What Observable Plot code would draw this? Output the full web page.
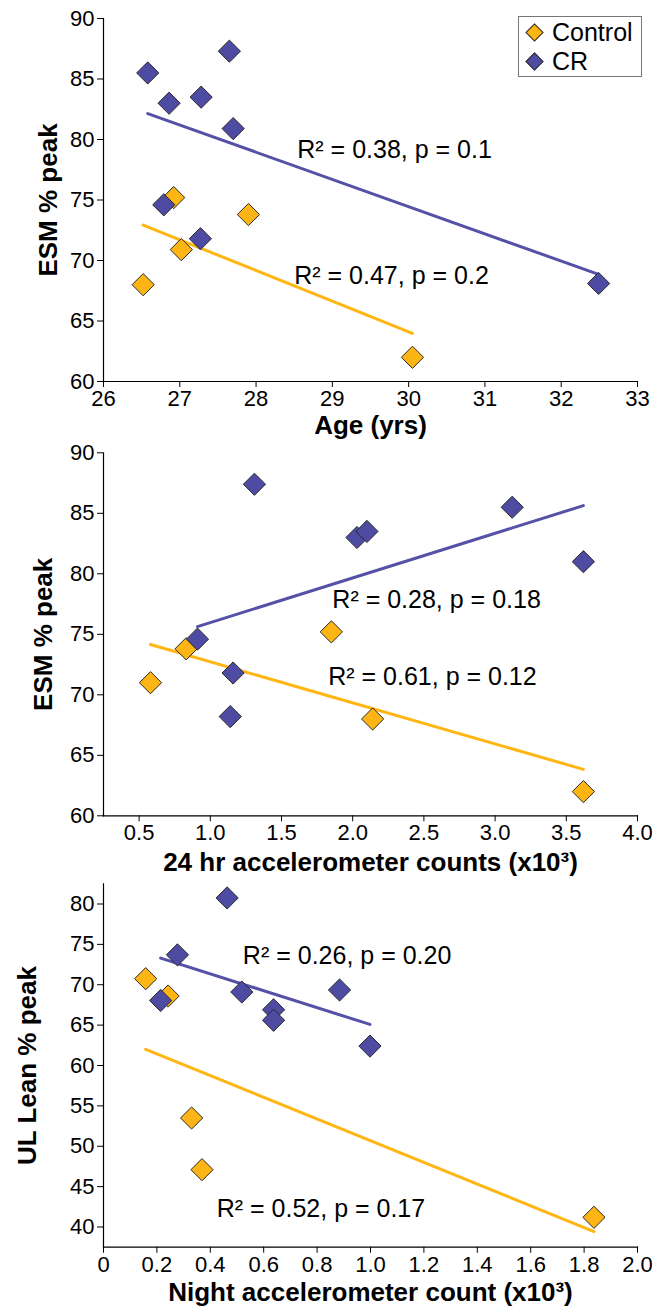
<!DOCTYPE html>
<html>
<head>
<meta charset="utf-8">
<script src="https://cdn.jsdelivr.net/npm/d3@7"></script>
<script src="https://cdn.jsdelivr.net/npm/@observablehq/plot@0.6"></script>
<style>
  html, body { margin: 0; padding: 0; background: #fff; }
  #wrap { position: relative; width: 652px; font-family: "Liberation Sans", Arial, sans-serif; }
  #wrap svg { display: block; }
  .legend { position: absolute; left: 518px; top: 16px; width: 124px; height: 61px; border: 1.5px solid #777; background: #fff; box-sizing: border-box; }
  .legend .item { position: absolute; left: 0; height: 30px; display: flex; align-items: center; font-size: 25px; color: #000; }
  .legend .sw { width: 11px; height: 11px; transform: rotate(45deg); border: 1px solid #333; margin-left: 9px; margin-right: 11px; }
</style>
</head>
<body>
<div id="wrap"></div>
<script>
// ---------- Data ----------
const groups = ["Control", "CR"];
const groupColors = ["#FDB515", "#4E4CA2"];
const lineColors = ["#FFB612", "#5451A6"];

// Panel 1: Age vs ESM % peak
const ageControl = [26.52, 26.92, 27.02, 27.90, 30.05];
const esmControl1 = [68.0, 75.2, 70.9, 73.8, 62.0];
const ageCR = [26.58, 26.86, 27.28, 27.65, 27.70, 26.79, 27.27, 32.49];
const esmCR1 = [85.5, 83.0, 83.5, 87.3, 80.9, 74.6, 71.8, 68.1];

// Panel 2: 24 hr accelerometer counts vs ESM % peak
const acc24Control = [0.58, 0.83, 1.85, 2.14, 3.62];
const esmControl2 = [71.0, 73.8, 75.2, 68.0, 62.0];
const acc24CR = [1.31, 2.03, 2.10, 3.12, 3.62, 0.91, 1.16, 1.14];
const esmCR2 = [87.4, 83.0, 83.5, 85.5, 81.0, 74.6, 71.8, 68.2];

// Panel 3: Night accelerometer count vs UL Lean % peak
const nightControl = [0.158, 0.242, 0.330, 0.369, 1.837];
const leanControl = [70.75, 68.6, 53.5, 47.1, 41.2];
const nightCR = [0.463, 0.277, 0.214, 0.518, 0.637, 0.637, 0.884, 0.998];
const leanCR = [80.75, 73.7, 68.05, 69.1, 66.9, 65.6, 69.35, 62.4];

// Tick labels
const ticks1X = [26, 27, 28, 29, 30, 31, 32, 33];
const ticks1Y = [60, 65, 70, 75, 80, 85, 90];
const ticks2X = [0.5, 1.0, 1.5, 2.0, 2.5, 3.0, 3.5, 4.0];
const ticks2Y = [60, 65, 70, 75, 80, 85, 90];
const ticks3X = [0, 0.2, 0.4, 0.6, 0.8, 1.0, 1.2, 1.4, 1.6, 1.8, 2.0];
const ticks3Y = [40, 45, 50, 55, 60, 65, 70, 75, 80];

// Annotations
const notes1 = [
  {text: "R² = 0.38, p = 0.1", x: 28.54, y: 79.1},
  {text: "R² = 0.47, p = 0.2", x: 28.50, y: 68.7}
];
const notes2 = [
  {text: "R² = 0.28, p = 0.18", x: 1.857, y: 77.8},
  {text: "R² = 0.61, p = 0.12", x: 1.828, y: 71.45}
];
const notes3 = [
  {text: "R² = 0.26, p = 0.20", x: 0.522, y: 73.5},
  {text: "R² = 0.52, p = 0.17", x: 0.424, y: 42.2}
];

// ---------- Helpers ----------
const rows = (xs, ys, g) => xs.map((x, i) => ({x, y: ys[i], g}));
const FONT = "'Liberation Sans', Arial, sans-serif";

function panel(cfg) {
  const ctrl = rows(cfg.cx, cfg.cy, "Control");
  const cr = rows(cfg.rx, cfg.ry, "CR");
  return Plot.plot({
    width: 652,
    height: cfg.height,
    marginTop: cfg.mt,
    marginBottom: cfg.mb,
    marginLeft: 103,
    marginRight: 15,
    style: {fontFamily: FONT, fontSize: "22px", color: "#000", background: "transparent", overflow: "visible"},
    x: {domain: cfg.xdom},
    y: {domain: cfg.ydom},
    marks: [
      Plot.axisX({ticks: cfg.xt, tickSize: 6, tickPadding: 3, tickFormat: cfg.xf, label: null, fontSize: 22, stroke: "#000"}),
      Plot.axisY({ticks: cfg.yt, tickSize: 6, tickPadding: 3, label: null, fontSize: 22, stroke: "#000"}),
      Plot.frame({anchor: "left", stroke: "#000", strokeWidth: 1.2}),
      Plot.frame({anchor: "bottom", stroke: "#000", strokeWidth: 1.2}),
      Plot.linearRegressionY(ctrl, {x: "x", y: "y", ci: 0, stroke: lineColors[0], strokeWidth: 3}),
      Plot.linearRegressionY(cr, {x: "x", y: "y", ci: 0, stroke: lineColors[1], strokeWidth: 3}),
      Plot.dot(ctrl, {x: "x", y: "y", symbol: "diamond2", r: 10, fill: groupColors[0], stroke: "#2a2a2a", strokeWidth: 1}),
      Plot.dot(cr, {x: "x", y: "y", symbol: "diamond2", r: 10, fill: groupColors[1], stroke: "#2a2a2a", strokeWidth: 1}),
      Plot.text(cfg.notes, {x: "x", y: "y", text: "text", textAnchor: "start", lineAnchor: "middle", fontSize: 25, fill: "#000"}),
      Plot.text([cfg.xlabel], {frameAnchor: "bottom", dy: cfg.xldy, textAnchor: "middle", lineAnchor: "middle", fontSize: 26, fontWeight: "bold", fill: "#000"}),
      Plot.text([cfg.ylabel], {frameAnchor: "left", dx: cfg.yldx, rotate: -90, textAnchor: "middle", lineAnchor: "middle", fontSize: 26, fontWeight: "bold", fill: "#000"})
    ]
  });
}

const wrap = document.getElementById("wrap");

wrap.appendChild(panel({
  height: 440, mt: 18, mb: 59,
  xdom: [26, 33], ydom: [60, 90], xt: ticks1X, yt: ticks1Y, xf: d => String(d),
  cx: ageControl, cy: esmControl1, rx: ageCR, ry: esmCR1,
  notes: notes1, xlabel: "Age (yrs)", ylabel: "ESM % peak", xldy: 44, yldx: -55
}));

wrap.appendChild(panel({
  height: 438, mt: 12.3, mb: 62.7,
  xdom: [0.25, 4.0], ydom: [60, 90], xt: ticks2X, yt: ticks2Y, xf: d => d.toFixed(1),
  cx: acc24Control, cy: esmControl2, rx: acc24CR, ry: esmCR2,
  notes: notes2, xlabel: "24 hr accelerometer counts (x10³)", ylabel: "ESM % peak", xldy: 47, yldx: -60
}));

wrap.appendChild(panel({
  height: 432, mt: 5.3, mb: 63.3,
  xdom: [0, 2.0], ydom: [37.5, 82.5], xt: ticks3X, yt: ticks3Y, xf: d => d === 0 ? "0" : d.toFixed(1),
  cx: nightControl, cy: leanControl, rx: nightCR, ry: leanCR,
  notes: notes3, xlabel: "Night accelerometer count (x10³)", ylabel: "UL Lean % peak", xldy: 45, yldx: -76
}));

// Legend
const legend = document.createElement("div");
legend.className = "legend";
groups.forEach((g, i) => {
  const item = document.createElement("div");
  item.className = "item";
  item.style.top = (i * 29) + "px";
  const sw = document.createElement("div");
  sw.className = "sw";
  sw.style.background = groupColors[i];
  const lab = document.createElement("span");
  lab.textContent = g;
  item.appendChild(sw);
  item.appendChild(lab);
  legend.appendChild(item);
});
wrap.appendChild(legend);
</script>
</body>
</html>
